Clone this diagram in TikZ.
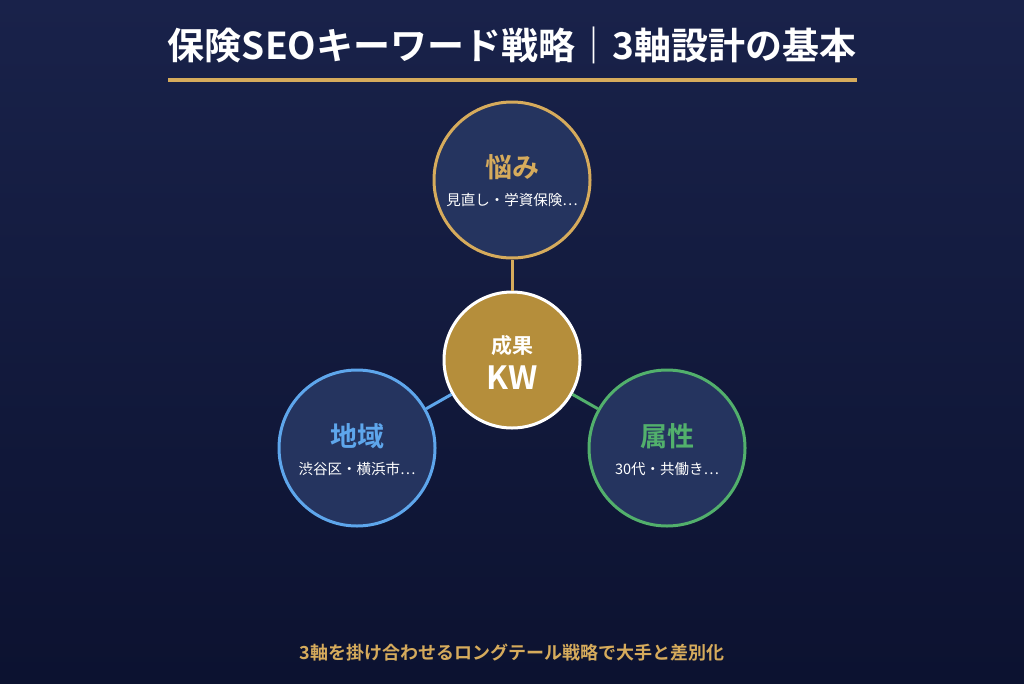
\documentclass[tikz,border=0pt]{standalone}
\usepackage{fontspec}
\setmainfont{Noto Sans CJK JP}[BoldFont={* Bold}]
\usepackage{xcolor}
\usetikzlibrary{positioning, calc}

\definecolor{bgtop}{HTML}{19224A}
\definecolor{bgbot}{HTML}{0C1230}
\definecolor{discfill}{HTML}{25345F}
\definecolor{gold}{HTML}{D6AB5C}
\definecolor{goldfill}{HTML}{B58E3B}
\definecolor{skyblue}{HTML}{5EA6EC}
\definecolor{leafgreen}{HTML}{52B06C}

\begin{document}
\begin{tikzpicture}[
  x=1pt, y=-1pt,
  axis/.style={circle, draw, line width=3pt, fill=discfill, minimum size=156pt, inner sep=0pt},
  hub/.style={circle, draw=white, line width=3pt, fill=goldfill, minimum size=136pt, inner sep=0pt},
  head/.style={font=\fontsize{27}{27}\selectfont\bfseries},
  sub/.style={font=\fontsize{14.5}{14.5}\selectfont, text=white},
  link/.style={line width=3pt},
]
% background
\shade[top color=bgtop, bottom color=bgbot] (0,0) rectangle (1024,683);
\useasboundingbox (0,0) rectangle (1024,683);

% Title and rule
\node[font=\fontsize{37}{37}\selectfont\bfseries, text=white] (title) at (512,45) {保険SEOキーワード戦略｜3軸設計の基本};
\coordinate (ruleL) at (168,80);
\coordinate (ruleR) at (857,80);
\draw[gold, line width=4pt] (ruleL) -- (ruleR);

% Three axes and the hub
\node[hub] (kw) at (512,360) {};
\node[axis, draw=gold] (worry) at (512,180) {};
\node[axis, draw=skyblue] (region) at (357,448) {};
\node[axis, draw=leafgreen] (attr) at (667,448) {};

% Connectors
\draw[link, gold] (worry) -- (kw);
\draw[link, skyblue] (region) -- (kw);
\draw[link, leafgreen] (attr) -- (kw);

% Labels
\node[head, text=gold] (worryT) at (512,167) {悩み};
\node[sub] (worryS) at (512,200) {見直し・学資保険⋯};
\node[head, text=skyblue] (regionT) at (357,436) {地域};
\node[sub] (regionS) at (357,469) {渋谷区・横浜市⋯};
\node[head, text=leafgreen] (attrT) at (667,436) {属性};
\node[sub] (attrS) at (667,469) {30代・共働き⋯};
\node[font=\fontsize{21}{21}\selectfont\bfseries, text=white] (kwT) at (512,346) {成果};
\node[font=\fontsize{32}{32}\selectfont\bfseries, text=white] (kwS) at (512,378) {KW};

% Footer
\node[font=\fontsize{18}{18}\selectfont\bfseries, text=gold] (foot) at (512,653) {3軸を掛け合わせるロングテール戦略で大手と差別化};
\end{tikzpicture}
\end{document}
